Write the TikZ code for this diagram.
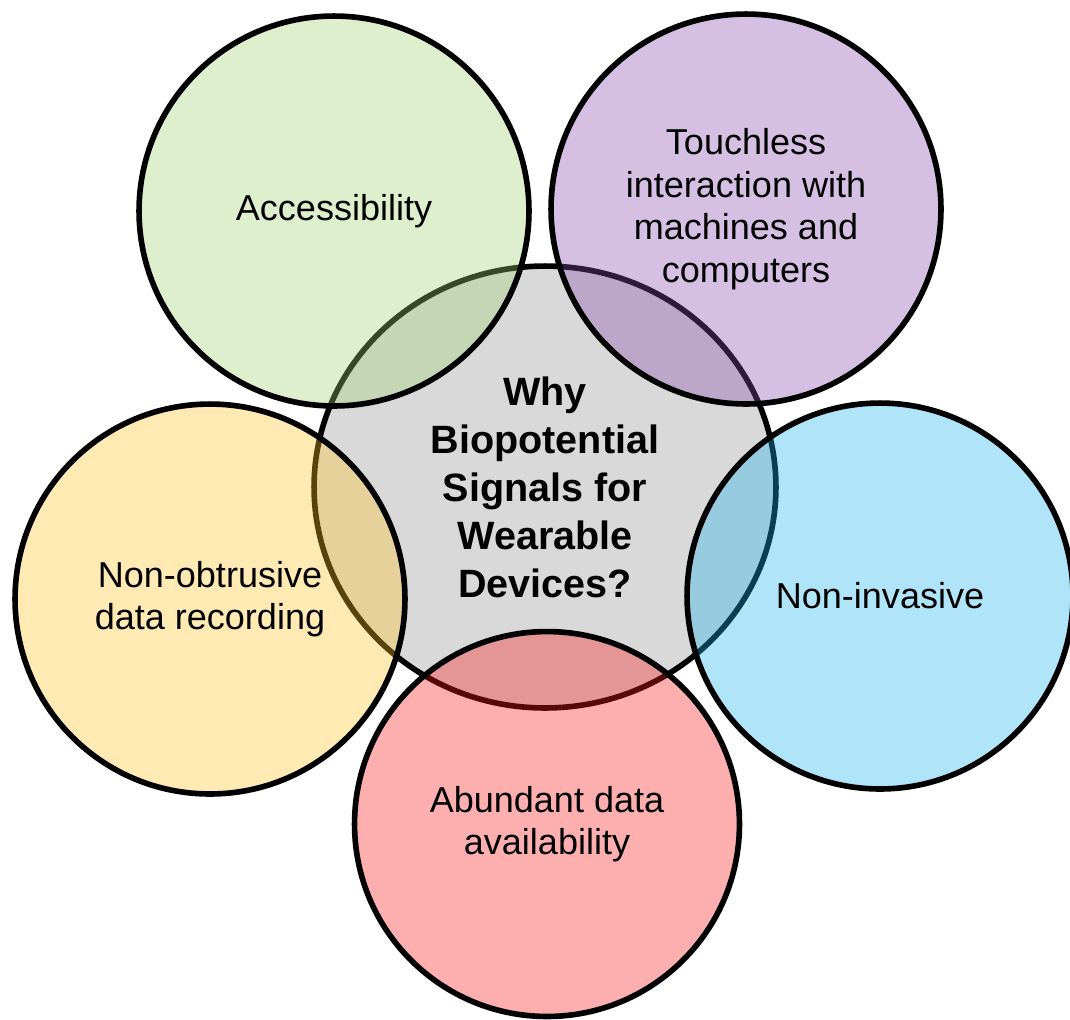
\documentclass[tikz,border=0pt]{standalone}
\usepackage{fontspec}
\setmainfont{Liberation Sans}
\usetikzlibrary{shapes.geometric}

\definecolor{hubgray}{RGB}{217,217,217}
\definecolor{accgreen}{RGB}{161,209,112}
\definecolor{touchpurple}{RGB}{135,75,175}
\definecolor{recyellow}{RGB}{252,195,35}
\definecolor{invblue}{RGB}{29,181,238}
\definecolor{datared}{RGB}{249,26,26}

\begin{document}
\begin{tikzpicture}[x=0.02cm, y=-0.02cm,
  hub/.style={ellipse, draw=black, line width=3.2pt, fill=hubgray, inner sep=0pt,
    minimum width=9.24cm, minimum height=8.84cm, align=center,
    font=\fontsize{22.5}{27.3}\selectfont\bfseries},
  bubble/.style={circle, draw=black, line width=3.2pt, fill opacity=0.35, text opacity=1,
    inner sep=0pt, minimum size=7.8cm, align=center,
    font=\fontsize{20.5}{24.2}\selectfont}]
\useasboundingbox (0,0) rectangle (1070,1019);

% centre question first, the five reasons lie over it
\node[hub] (why) at (545,487) {Why\\Biopotential\\Signals for\\Wearable\\Devices?};

\node[bubble, fill=accgreen] (access) at (334,211) {Accessibility};
\node[bubble, fill=touchpurple] (touch) at (746,209) {Touchless\\interaction with\\machines and\\computers};
\node[bubble, fill=recyellow] (record) at (210,599) {Non-obtrusive\\data recording};
\node[bubble, fill=invblue, minimum size=7.72cm] (invasive) at (880,596) {Non-invasive};
\node[bubble, fill=datared, minimum size=7.7cm] (data) at (547,824) {Abundant data\\availability};
\end{tikzpicture}
\end{document}
